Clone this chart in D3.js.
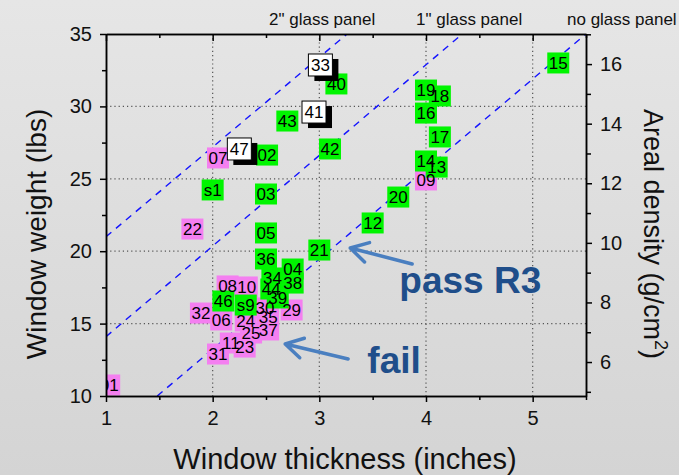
<!DOCTYPE html>
<html>
<head>
<meta charset="utf-8">
<script src="https://cdn.jsdelivr.net/npm/d3@7"></script>
<style>
  body { margin: 0; background: #dcdcdc; }
  svg { display: block; font-family: "Liberation Sans", Arial, sans-serif; }
  .axis path, .axis line { stroke: #000; stroke-width: 1.5; }
  .axis text { font-size: 20px; fill: #111; font-family: "Liberation Sans", Arial, sans-serif; }
  .grid line { stroke: #555; stroke-width: 1.2; stroke-dasharray: 1.2,3; }
  .pt-label { font-size: 17px; fill: #000; text-anchor: middle; }
</style>
</head>
<body>
<svg id="chart" width="679" height="475"></svg>
<script>
// windows that passed R3 (green)
const passIds = ["40", "43", "02", "s1", "03", "42", "15", "19", "18", "16", "17", "14", "13",
  "20", "12", "05", "21", "36", "04", "34", "44", "38", "39", "46", "s9"];
const passThickness = [3.16, 2.70, 2.51, 2.00, 2.50, 3.10, 5.24, 4.00, 4.13, 4.00, 4.13, 4.00, 4.10,
  3.74, 3.50, 2.50, 3.00, 2.50, 2.75, 2.56, 2.55, 2.75, 2.61, 2.10, 2.31];
const passWeight = [31.55, 28.99, 26.64, 24.23, 23.95, 27.06, 33.0, 31.13, 30.72, 29.54, 27.89, 26.23, 25.81,
  23.74, 21.95, 21.26, 20.08, 19.46, 18.77, 18.15, 17.39, 17.80, 16.77, 16.56, 16.28];

// windows that failed (pink)
const failIds = ["07", "09", "22", "08", "10", "30", "29", "32", "06", "24", "35", "25", "37",
  "11", "23", "31", "01"];
const failThickness = [2.05, 4.00, 1.81, 2.14, 2.32, 2.49, 2.74, 1.89, 2.08, 2.31, 2.52, 2.36, 2.52,
  2.17, 2.30, 2.05, 1.03];
const failWeight = [26.44, 24.92, 21.53, 17.60, 17.53, 16.08, 15.94, 15.73, 15.25, 15.18, 15.46, 14.35, 14.56,
  13.66, 13.38, 12.90, 10.76];

// not tested yet (white)
const otherIds = ["33", "41", "47"];
const otherThickness = [3.01, 2.95, 2.25];
const otherWeight = [32.86, 29.61, 27.06];

const xTicks = [1, 2, 3, 4, 5];
const xMinorTicks = [1.5, 2.5, 3.5, 4.5, 5.5];
const yTicks = [10, 15, 20, 25, 30, 35];
const yMinorTicks = [12.5, 17.5, 22.5, 27.5, 32.5];
const densityTicks = [6, 8, 10, 12, 14, 16];
const densityMinorTicks = [5, 7, 9, 11, 13, 15, 17];
const lbsToDensity = 0.486; // g/cm^2 per lb

// dashed guides: [thickness, weight] start and end
const guideNames = ['2" glass panel', '1" glass panel', "no glass panel"];
const guideStart = [[1, 21.0], [1, 14.1], [1.48, 10]];
const guideEnd = [[3.26, 35], [4.34, 35], [5.5, 35]];

// callouts: arrow tail / tip in data units, text anchor
const calloutText = ["pass R3", "fail"];
const calloutTail = [[3.87, 19.12], [3.27, 12.56]];
const calloutTip = [[3.29, 20.22], [2.68, 13.59]];
const calloutAt = [[3.75, 17.11], [3.45, 11.59]];

const svg = d3.select("#chart");
const pLeft = 106, pRight = 586, pTop = 34, pBottom = 396;

const x = d3.scaleLinear().domain([1, 5.5]).range([pLeft, pRight]);
const y = d3.scaleLinear().domain([10, 35]).range([pBottom, pTop]);
const yd = d3.scaleLinear().domain([10 * lbsToDensity, 35 * lbsToDensity]).range([pBottom, pTop]);

// background
const defs = svg.append("defs");
const grad = defs.append("linearGradient").attr("id", "bg").attr("x1", 0).attr("y1", 0).attr("x2", 0).attr("y2", 1);
grad.append("stop").attr("offset", "0%").attr("stop-color", "#e6e6e6");
grad.append("stop").attr("offset", "55%").attr("stop-color", "#dcdcdc");
grad.append("stop").attr("offset", "100%").attr("stop-color", "#d4d4d4");
svg.append("rect").attr("width", 679).attr("height", 475).attr("fill", "url(#bg)");

defs.append("clipPath").attr("id", "plotClip")
  .append("rect").attr("x", pLeft).attr("y", pTop).attr("width", pRight - pLeft).attr("height", pBottom - pTop);

// grid
const grid = svg.append("g").attr("class", "grid");
grid.selectAll(".gx").data(xTicks.slice(1)).enter().append("line")
  .attr("x1", d => x(d)).attr("x2", d => x(d)).attr("y1", pTop).attr("y2", pBottom);
grid.selectAll(".gy").data(yTicks.slice(1, -1)).enter().append("line")
  .attr("y1", d => y(d)).attr("y2", d => y(d)).attr("x1", pLeft).attr("x2", pRight);

const plot = svg.append("g").attr("clip-path", "url(#plotClip)");

// guide lines
plot.selectAll(".guide").data(guideStart).enter().append("line")
  .attr("x1", d => x(d[0])).attr("y1", d => y(d[1]))
  .attr("x2", (d, i) => x(guideEnd[i][0])).attr("y2", (d, i) => y(guideEnd[i][1]))
  .attr("stroke", "#1414ff").attr("stroke-width", 1.4).attr("stroke-dasharray", "7,6");

function toPoints(ids, ts, ws, status) {
  return ids.map((id, i) => ({ id: id, t: ts[i], w: ws[i], status: status }));
}
const failPts = toPoints(failIds, failThickness, failWeight, "fail");
const passPts = toPoints(passIds, passThickness, passWeight, "pass");
const otherPts = toPoints(otherIds, otherThickness, otherWeight, "other");

const bw = 22, bh = 21;
plot.selectAll(".fail").data(failPts).enter().append("rect")
  .attr("x", d => x(d.t) - bw / 2).attr("y", d => y(d.w) - bh / 2)
  .attr("width", bw).attr("height", bh).attr("fill", "#f47ff0");
plot.selectAll(".pass").data(passPts).enter().append("rect")
  .attr("x", d => x(d.t) - bw / 2).attr("y", d => y(d.w) - bh / 2)
  .attr("width", bw).attr("height", bh).attr("fill", "#00f500");
const og = plot.selectAll(".other").data(otherPts).enter().append("g");
og.append("rect")
  .attr("x", d => x(d.t) - 12 + 6).attr("y", d => y(d.w) - 11 + 5)
  .attr("width", 24).attr("height", 22).attr("fill", "#000");
og.append("rect")
  .attr("x", d => x(d.t) - 12).attr("y", d => y(d.w) - 11)
  .attr("width", 24).attr("height", 22).attr("fill", "#fff")
  .attr("stroke", "#000").attr("stroke-width", 1);

plot.selectAll(".pt-label").data(failPts.concat(passPts, otherPts)).enter().append("text")
  .attr("class", "pt-label")
  .attr("x", d => x(d.t)).attr("y", d => y(d.w)).attr("dy", "0.36em")
  .text(d => d.id);

// axes
function styleAxis(g) { g.attr("class", "axis"); }
svg.append("g").attr("transform", `translate(0,${pBottom})`).call(styleAxis)
  .call(d3.axisBottom(x).tickValues(xTicks).tickSize(6).tickSizeOuter(0).tickPadding(9).tickFormat(d3.format("d")));
svg.append("g").attr("transform", `translate(0,${pBottom})`).call(styleAxis)
  .call(d3.axisBottom(x).tickValues(xMinorTicks).tickSize(4).tickSizeOuter(0).tickFormat(""));
svg.append("g").attr("transform", `translate(0,${pTop})`).call(styleAxis)
  .call(d3.axisTop(x).tickValues(xTicks).tickSize(-7).tickSizeOuter(0).tickFormat(""));
svg.append("g").attr("transform", `translate(0,${pTop})`).call(styleAxis)
  .call(d3.axisTop(x).tickValues(xMinorTicks).tickSize(-4).tickSizeOuter(0).tickFormat(""));
svg.append("g").attr("transform", `translate(${pLeft},0)`).call(styleAxis)
  .call(d3.axisLeft(y).tickValues(yTicks).tickSize(6).tickSizeOuter(0).tickPadding(8).tickFormat(d3.format("d")));
svg.append("g").attr("transform", `translate(${pLeft},0)`).call(styleAxis)
  .call(d3.axisLeft(y).tickValues(yMinorTicks).tickSize(4).tickSizeOuter(0).tickFormat(""));
svg.append("g").attr("transform", `translate(${pRight},0)`).call(styleAxis)
  .call(d3.axisRight(yd).tickValues(densityTicks).tickSize(6).tickSizeOuter(0).tickPadding(8).tickFormat(d3.format("d")));
svg.append("g").attr("transform", `translate(${pRight},0)`).call(styleAxis)
  .call(d3.axisRight(yd).tickValues(densityMinorTicks).tickSize(5).tickSizeOuter(0).tickFormat(""));

// axis titles
svg.append("text").attr("x", 345).attr("y", 469).attr("text-anchor", "middle")
  .attr("font-size", 29).attr("fill", "#111").text("Window thickness (inches)");
svg.append("text").attr("transform", "translate(46,234) rotate(-90)").attr("text-anchor", "middle")
  .attr("font-size", 28).attr("fill", "#111").text("Window weight (lbs)");
const rt = svg.append("text").attr("transform", "translate(644,234) rotate(90)").attr("text-anchor", "middle")
  .attr("font-size", 27).attr("fill", "#111");
rt.append("tspan").text("Areal density (g/cm");
rt.append("tspan").attr("font-size", 18).attr("dy", -11).text("2");
rt.append("tspan").attr("dy", 11).text(")");

// guide names above the frame
const nameX = [269, 416, 567];
svg.selectAll(".gname").data(guideNames).enter().append("text")
  .attr("x", (d, i) => nameX[i]).attr("y", 25)
  .attr("font-size", 17).attr("fill", "#111").text(d => d);

// callout arrows
const arrowColor = "#4a7fc0";
calloutTail.forEach((tail, i) => {
  const tx = x(tail[0]), ty = y(tail[1]);
  const hx = x(calloutTip[i][0]), hy = y(calloutTip[i][1]);
  const ang = Math.atan2(ty - hy, tx - hx);
  const len = 20, spread = Math.PI / 6;
  const p = d3.path();
  p.moveTo(tx, ty); p.lineTo(hx, hy);
  p.moveTo(hx + len * Math.cos(ang - spread), hy + len * Math.sin(ang - spread));
  p.lineTo(hx, hy);
  p.lineTo(hx + len * Math.cos(ang + spread), hy + len * Math.sin(ang + spread));
  svg.append("path").attr("d", p.toString()).attr("fill", "none")
    .attr("stroke", arrowColor).attr("stroke-width", 3.5)
    .attr("stroke-linecap", "round").attr("stroke-linejoin", "round");
});
svg.selectAll(".callout").data(calloutText).enter().append("text")
  .attr("x", (d, i) => x(calloutAt[i][0])).attr("y", (d, i) => y(calloutAt[i][1]))
  .attr("font-size", 37).attr("font-weight", "bold").attr("fill", "#1f4e8a")
  .text(d => d);
</script>
</body>
</html>
